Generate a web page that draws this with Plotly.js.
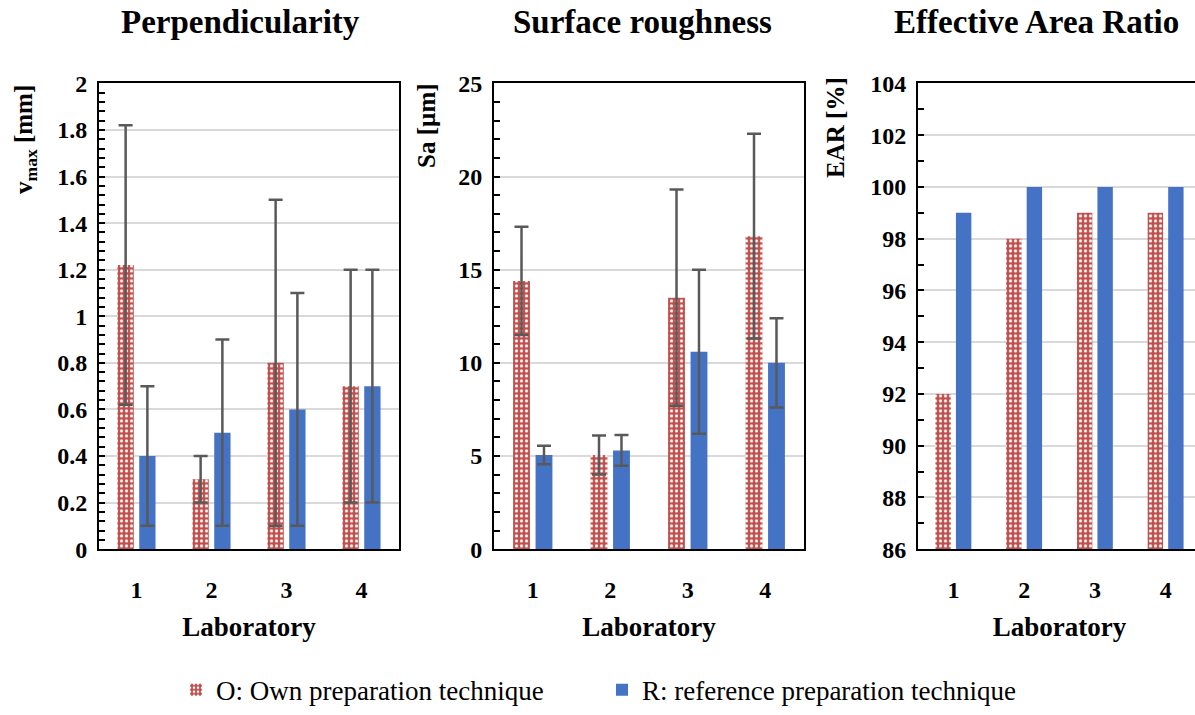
<!DOCTYPE html>
<html>
<head>
<meta charset="utf-8">
<script src="https://cdn.plot.ly/plotly-3.0.1.min.js"></script>
<style>
html,body{margin:0;padding:0;overflow:hidden;background:#fff;}
#chart{width:1210px;height:715px;}
</style>
</head>
<body>
<div id="chart"></div>
<script>
// ---- data ----
const labs = ['1', '2', '3', '4'];
const seriesNames = ['O: Own preparation technique', 'R: reference preparation technique'];
const perpO = [1.22, 0.30, 0.80, 0.70];
const perpOerr = [0.60, 0.10, 0.70, 0.50];
const perpR = [0.40, 0.50, 0.60, 0.70];
const perpRerr = [0.30, 0.40, 0.50, 0.50];
const saO = [14.4, 5.05, 13.5, 16.8];
const saOerr = [2.9, 1.05, 5.8, 5.5];
const saR = [5.05, 5.3, 10.6, 10.0];
const saRerr = [0.5, 0.83, 4.4, 2.4];
const earO = [92, 98, 99, 99];
const earR = [99, 100, 100, 100];
const panelTitles = ['Perpendicularity', 'Surface roughness', 'Effective Area Ratio'];
const yTitles = ['v<sub>max</sub> [mm]', 'Sa [µm]', 'EAR [%]'];
const xTitle = 'Laboratory';

// ---- style ----
const RED = '#C0504D', BLUE = '#4472C4', ERR = '#595959';
const SERIF = 'Liberation Serif';
const W = 1210, H = 715;
const oMarker = {color: RED, line: {width: 0},
  pattern: {shape: '.', fgcolor: '#ffffff', bgcolor: RED, size: 5, solidity: 0.3}};
const rMarker = {color: BLUE, line: {width: 0}};
function err(a) { return {type: 'data', array: a, visible: true, color: ERR, thickness: 2.5, width: 7}; }

const traces = [
  {type: 'bar', x: labs, y: perpO, name: seriesNames[0], marker: oMarker, error_y: err(perpOerr), xaxis: 'x', yaxis: 'y', legendgroup: 'O'},
  {type: 'bar', x: labs, y: perpR, name: seriesNames[1], marker: rMarker, error_y: err(perpRerr), xaxis: 'x', yaxis: 'y', legendgroup: 'R'},
  {type: 'bar', x: labs, y: saO, name: seriesNames[0], marker: oMarker, error_y: err(saOerr), xaxis: 'x2', yaxis: 'y2', legendgroup: 'O', showlegend: false},
  {type: 'bar', x: labs, y: saR, name: seriesNames[1], marker: rMarker, error_y: err(saRerr), xaxis: 'x2', yaxis: 'y2', legendgroup: 'R', showlegend: false},
  {type: 'bar', x: labs, y: earO, name: seriesNames[0], marker: oMarker, xaxis: 'x3', yaxis: 'y3', legendgroup: 'O', showlegend: false},
  {type: 'bar', x: labs, y: earR, name: seriesNames[1], marker: rMarker, xaxis: 'x3', yaxis: 'y3', legendgroup: 'R', showlegend: false}
];

const yDom = [(H - 553) / H, (H - 84) / H];
const xDoms = [[99 / W, 399 / W], [494 / W, 804 / W], [918 / W, 1201 / W]];
const yRanges = [[0, 2], [0, 25], [86, 104]];
const yDticks = [0.2, 5, 2];
const yMinor = [0.04, 1, 1];

function xax(i) {
  return {
    domain: xDoms[i], type: 'category', anchor: i === 0 ? 'y' : 'y' + (i + 1),
    showline: true, linecolor: '#000', linewidth: 2, mirror: true,
    ticks: '', showgrid: false, ticklabelstandoff: 18,
    tickfont: {family: SERIF, size: 24, color: '#000', weight: 'bold'},
    title: {text: '<b>' + xTitle + '</b>', standoff: 15, font: {family: SERIF, size: 27, color: '#000'}},
    fixedrange: true
  };
}
function yax(i) {
  return {
    domain: yDom, range: yRanges[i], anchor: i === 0 ? 'x' : 'x' + (i + 1),
    dtick: yDticks[i], tick0: yRanges[i][0],
    showline: true, linecolor: '#000', linewidth: 2, mirror: true,
    ticks: 'inside', ticklen: 6, tickwidth: 2, tickcolor: '#000',
    minor: {dtick: yMinor[i], tick0: yRanges[i][0], ticks: 'inside', ticklen: 6, tickwidth: 2, tickcolor: '#000', showgrid: false},
    showgrid: true, gridcolor: '#D9D9D9', gridwidth: 2, zeroline: false,
    ticklabelstandoff: 5,
    tickfont: {family: SERIF, size: 24, color: '#000', weight: 'bold'},
    fixedrange: true
  };
}

const titleX = [240, 642, 1036];
const yTitleX = [26, 427, 836];
const yTitleTop = [84, 82, 76];
const annotations = [];
for (let i = 0; i < 3; i++) {
  annotations.push({
    text: '<b>' + panelTitles[i] + '</b>', xref: 'paper', yref: 'paper',
    x: titleX[i] / W, y: 1 - 22 / H, xanchor: 'center', yanchor: 'middle', showarrow: false,
    font: {family: SERIF, size: 33, color: '#000'}
  });
  annotations.push({
    text: '<b>' + yTitles[i] + '</b>', xref: 'paper', yref: 'paper', textangle: -90,
    x: yTitleX[i] / W, y: 1 - yTitleTop[i] / H, xanchor: 'center', yanchor: 'top', showarrow: false,
    font: {family: SERIF, size: 25, color: '#000'}
  });
}

const layout = {
  width: W, height: H,
  margin: {l: 0, r: 0, t: 0, b: 0},
  paper_bgcolor: '#fff', plot_bgcolor: '#fff',
  font: {family: SERIF, color: '#000'},
  barmode: 'group', bargap: 0.42, bargroupgap: 0.25,
  showlegend: true,
  legend: {orientation: 'h', x: 602 / W, xanchor: 'center', y: 1 - 695 / H, yanchor: 'middle',
    font: {family: SERIF, size: 27, color: '#000'}, itemwidth: 30, traceorder: 'normal',
    entrywidth: 381, entrywidthmode: 'pixels'},
  xaxis: xax(0), xaxis2: xax(1), xaxis3: xax(2),
  yaxis: yax(0), yaxis2: yax(1), yaxis3: yax(2),
  annotations: annotations
};

Plotly.newPlot('chart', traces, layout, {displayModeBar: false, staticPlot: true});
</script>
</body>
</html>
